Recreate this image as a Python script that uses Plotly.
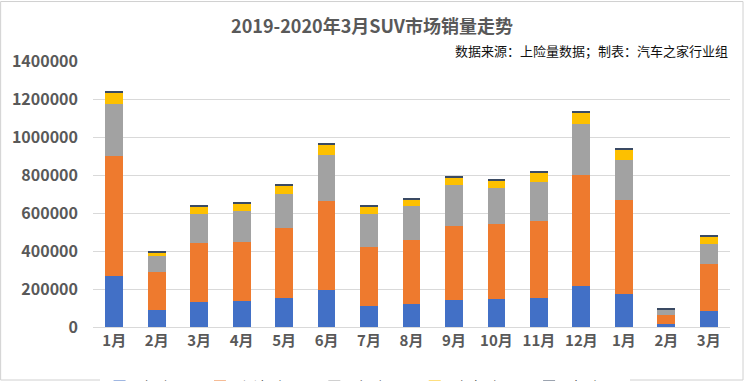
import plotly.graph_objects as go

months = ["1月", "2月", "3月", "4月", "5月", "6月", "7月", "8月", "9月", "10月", "11月", "12月", "1月", "2月", "3月"]
small_suv = [268000, 89000, 130000, 137000, 154000, 193000, 109000, 123000, 144000, 149000, 155000, 217000, 174000, 17000, 82000]
compact_suv = [632000, 199000, 312000, 309000, 365000, 470000, 312000, 333000, 390000, 391000, 403000, 581000, 493000, 48000, 248000]
mid_suv = [274000, 87000, 151000, 164000, 179000, 241000, 176000, 179000, 212000, 194000, 205000, 270000, 213000, 26000, 108000]
midlarge_suv = [62000, 18000, 40000, 39000, 48000, 55000, 38000, 37000, 42000, 38000, 48000, 59000, 52000, 3000, 38000]
large_suv = [6000, 3000, 4000, 4000, 5000, 6000, 4000, 4000, 5000, 4000, 5000, 6000, 5000, 1000, 5000]
series_names = ["小型SUV", "紧凑型SUV", "中型SUV", "中大型SUV", "大型SUV"]
y_ticks = [0, 200000, 400000, 600000, 800000, 1000000, 1200000, 1400000]

xpos = list(range(len(months)))
colors = ["#4270C6", "#EE7A2E", "#A2A2A2", "#FDC000", "#3A4A63"]
data = [small_suv, compact_suv, mid_suv, midlarge_suv, large_suv]

fig = go.Figure()
for name, vals, col in zip(series_names, data, colors):
    fig.add_trace(go.Bar(x=xpos, y=vals, name=name, marker=dict(color=col, line=dict(width=0))))

font_family = "Noto Sans CJK SC, Microsoft YaHei, sans-serif"
fig.update_layout(
    barmode="stack",
    bargap=0.58,
    width=744, height=381,
    margin=dict(l=93, r=14, t=61, b=54, autoexpand=False),
    paper_bgcolor="white", plot_bgcolor="white",
    font=dict(family=font_family, color="#595959"),
    title=dict(text="<b>2019-2020年3月SUV市场销量走势</b>", x=0.5, xanchor="center",
               y=1 - 27 / 381, yanchor="middle", font=dict(size=18, color="#595959")),
    legend=dict(orientation="h", x=0.49, xanchor="center", xref="container",
                yref="container", y=1 - 371 / 381, yanchor="top",
                font=dict(size=14, color="#595959"), traceorder="normal"),
    xaxis=dict(tickvals=xpos, ticktext=months, showgrid=False, showline=True,
               linecolor="#D9D9D9", ticks="", range=[-0.5, len(months) - 0.5],
               tickfont=dict(size=15, color="#595959", family=font_family, weight="bold")),
    yaxis=dict(range=[0, 1400000], tickvals=y_ticks, ticktext=[str(v) for v in y_ticks],
               showgrid=True, gridcolor="#D9D9D9", zeroline=False, ticks="",
               tickfont=dict(size=16, color="#595959", family=font_family, weight="bold"),
               ticklabelstandoff=14),
    annotations=[dict(text="数据来源：上险量数据；制表：汽车之家行业组", xref="paper", yref="paper",
                      x=1.0, xanchor="right", y=1 + 11 / 266, yanchor="middle", showarrow=False,
                      font=dict(size=13, color="#111111", family=font_family))],
    shapes=[dict(type="rect", xref="paper", yref="paper", x0=-93 / 637 + 0.001, x1=1 + 13 / 637,
                 y0=-53 / 266, y1=1 + 60 / 266 - 0.002, line=dict(color="#D0D0D0", width=1))],
)

fig.write_html("out.html", config={"displayModeBar": False},
               post_script="document.body.style.margin='0';document.body.style.overflow='hidden';")
